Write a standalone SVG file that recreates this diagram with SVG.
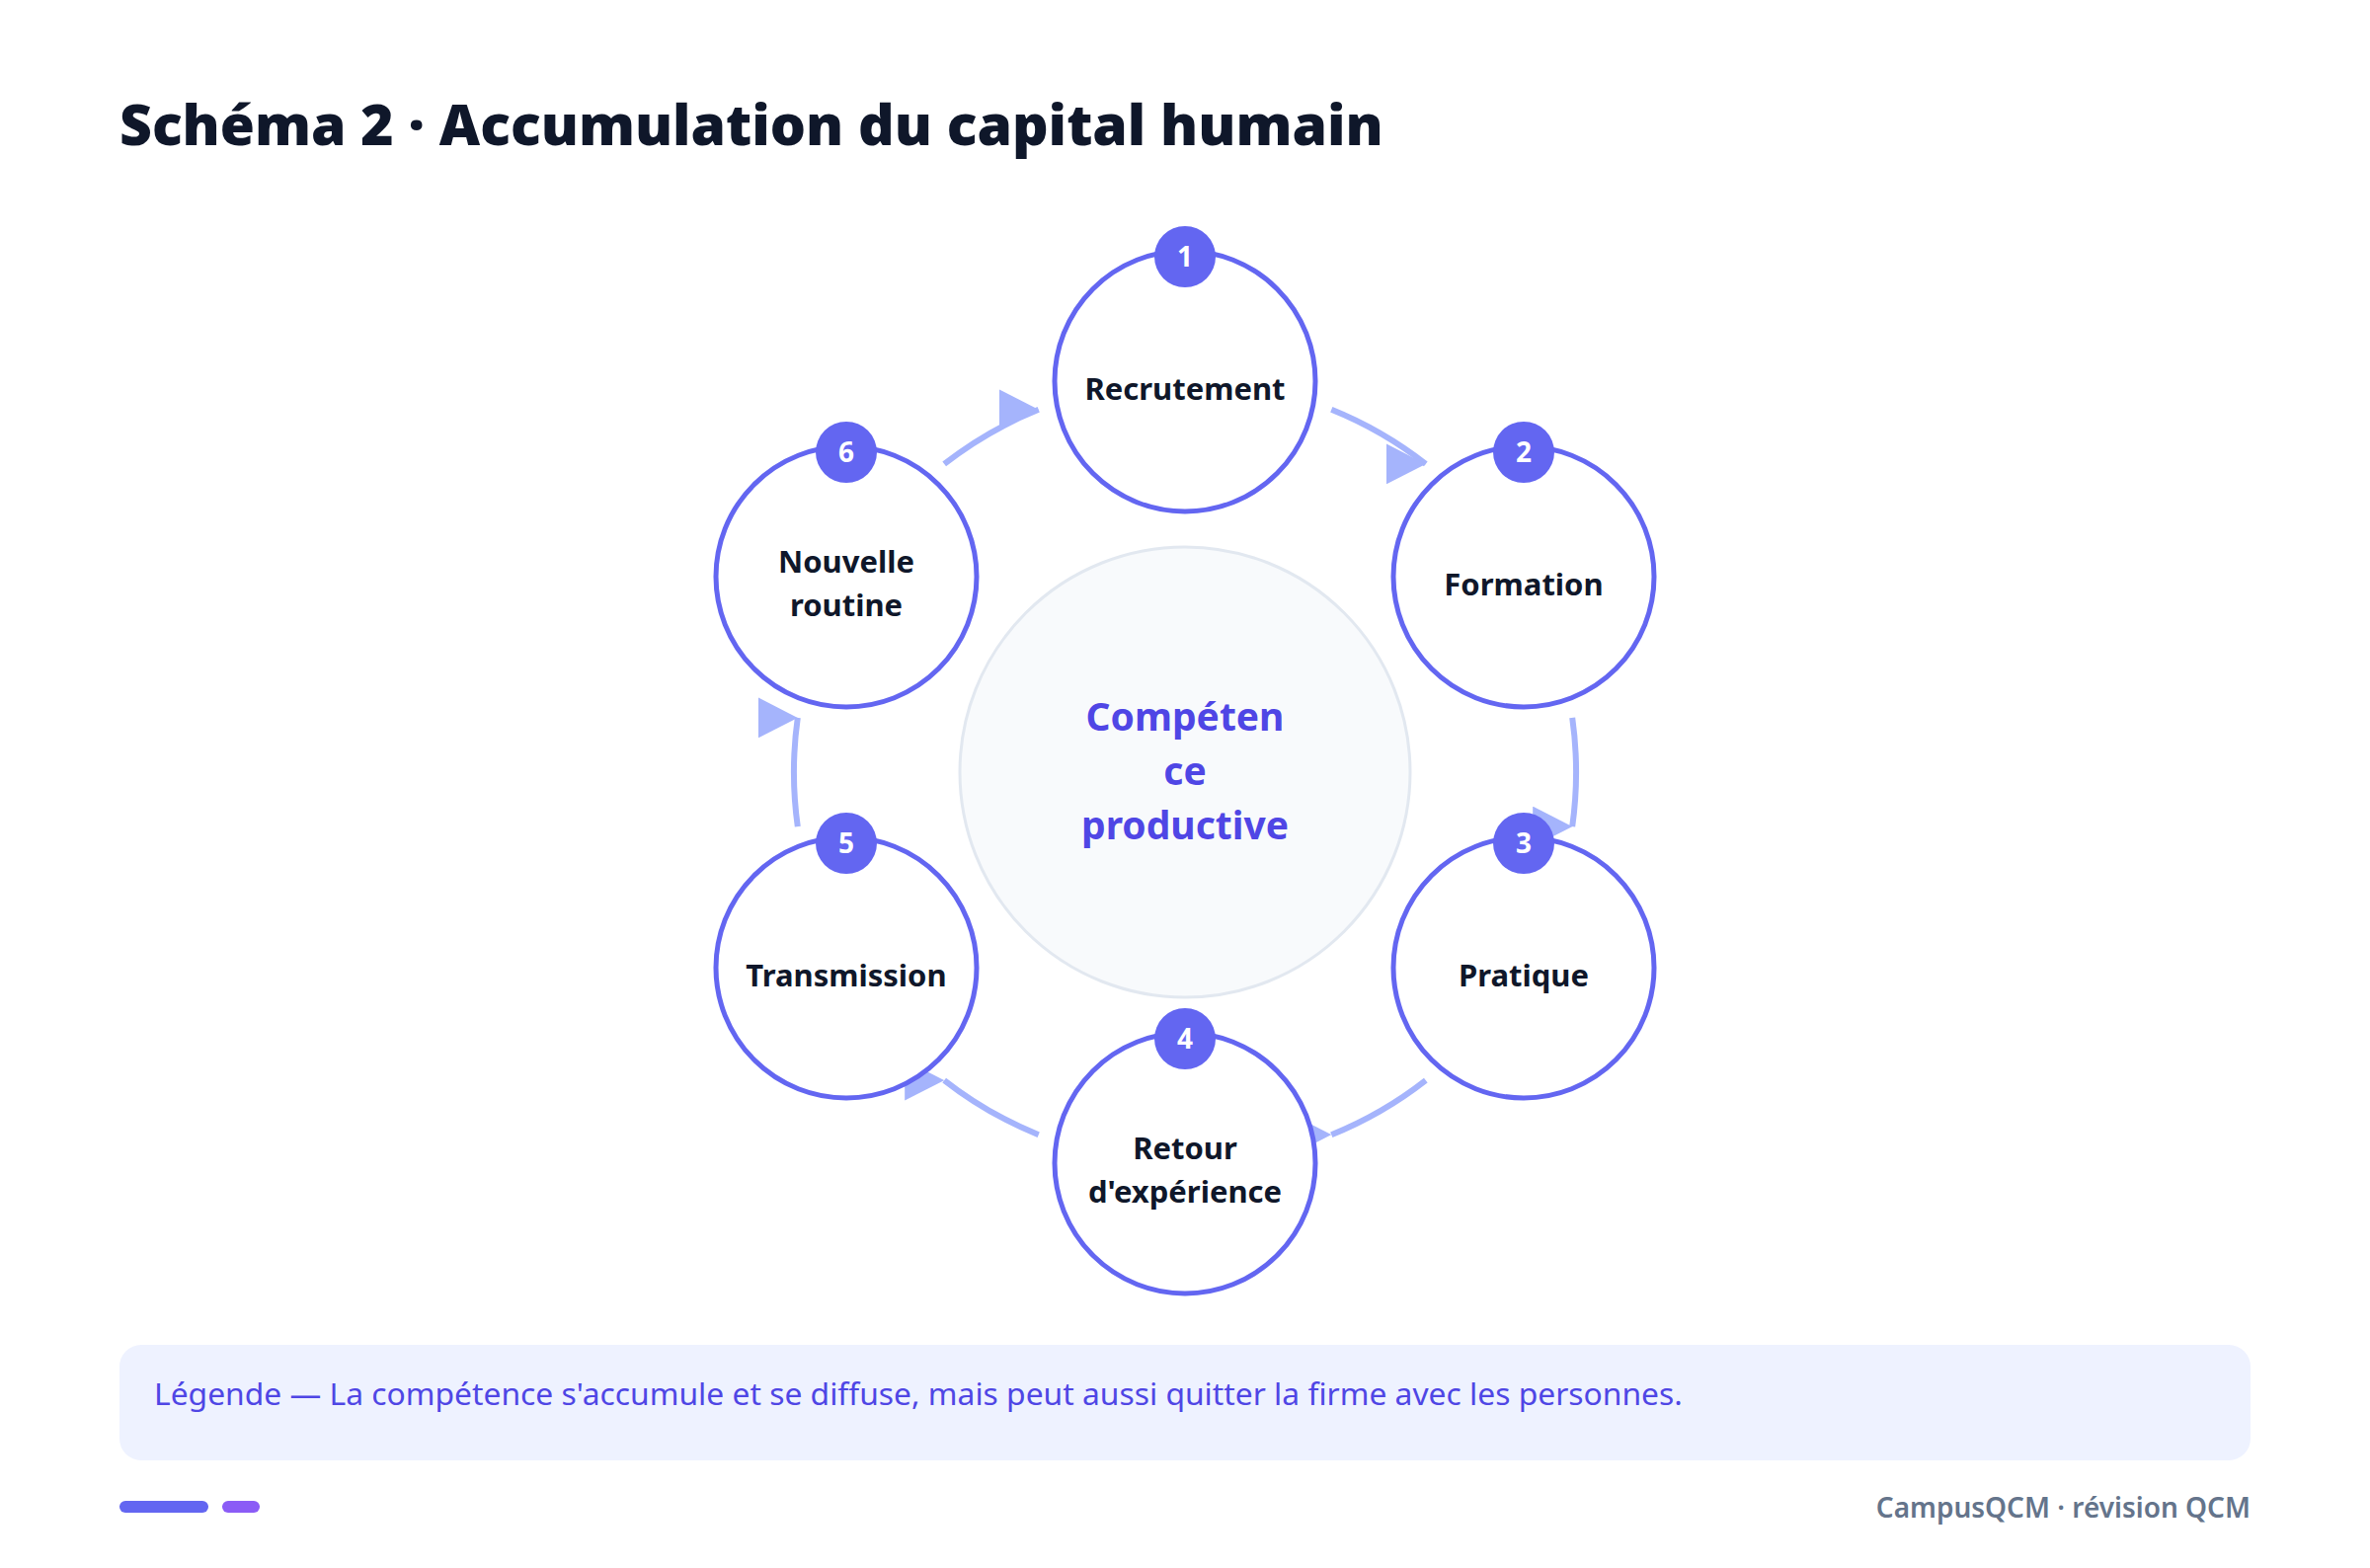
<svg xmlns="http://www.w3.org/2000/svg" width="2400" height="1588" viewBox="0 0 2400 1588">
<defs>
<style>
.title{font-family:"Noto Sans","Liberation Sans",sans-serif;font-weight:900;font-size:57px;fill:#0f172a}
.node{fill:#ffffff;stroke:#6366f1;stroke-width:5}
.badge{fill:#6366f1}
.num{font-family:"Noto Sans","Liberation Sans",sans-serif;font-weight:700;font-size:28px;fill:#ffffff;text-anchor:middle}
.lbl{font-family:"Noto Sans","Liberation Sans",sans-serif;font-weight:700;font-size:31px;fill:#0f172a;text-anchor:middle}
.hub{fill:#f8fafc;stroke:#e2e8f0;stroke-width:3}
.hubt{font-family:"Noto Sans","Liberation Sans",sans-serif;font-weight:700;font-size:39px;fill:#4f46e5;text-anchor:middle}
.conn{fill:none;stroke:#a5b4fc;stroke-width:6;marker-end:url(#ah)}
.leg{font-family:"Noto Sans","Liberation Sans",sans-serif;font-size:31.8px;fill:#4f46e5}
.foot{font-family:"Noto Sans","Liberation Sans",sans-serif;font-weight:600;font-size:28px;fill:#64748b;text-anchor:end}
</style>
<marker id="ah" markerUnits="userSpaceOnUse" viewBox="0 0 40 41" markerWidth="40" markerHeight="41" refX="40" refY="20.5">
<path d="M0,0 L40,20.5 L0,41 Z" fill="#a5b4fc"/>
</marker>
</defs>
<rect width="2400" height="1588" fill="#ffffff"/>
<text class="title" x="121" y="147">Schéma 2 · Accumulation du capital humain</text>

<g id="hub">
<circle class="hub" cx="1200" cy="782" r="228"/>
<text class="hubt" x="1200" y="740">Compéten</text>
<text class="hubt" x="1200" y="795">ce</text>
<text class="hubt" x="1200" y="850">productive</text>
</g>

<g id="connectors">
<path class="conn" d="M1348.3,414.8 A396,396 0 0 1 1443.8,469.9"/>
<path class="conn" d="M1592.2,726.9 A396,396 0 0 1 1592.2,837.1"/>
<path class="conn" d="M1443.8,1094.1 A396,396 0 0 1 1348.3,1149.2"/>
<path class="conn" d="M1051.7,1149.2 A396,396 0 0 1 956.2,1094.1"/>
<path class="conn" d="M807.8,837.1 A396,396 0 0 1 807.8,726.9"/>
<path class="conn" d="M956.2,469.9 A396,396 0 0 1 1051.7,414.8"/>
</g>

<g id="node1">
<circle class="node" cx="1200" cy="386" r="132"/>
<circle class="badge" cx="1200" cy="260" r="31"/>
<text class="num" x="1200" y="270">1</text>
<text class="lbl" x="1200" y="405">Recrutement</text>
</g>
<g id="node2">
<circle class="node" cx="1543" cy="584" r="132"/>
<circle class="badge" cx="1543" cy="458" r="31"/>
<text class="num" x="1543" y="468">2</text>
<text class="lbl" x="1543" y="603">Formation</text>
</g>
<g id="node3">
<circle class="node" cx="1543" cy="980" r="132"/>
<circle class="badge" cx="1543" cy="854" r="31"/>
<text class="num" x="1543" y="864">3</text>
<text class="lbl" x="1543" y="999">Pratique</text>
</g>
<g id="node4">
<circle class="node" cx="1200" cy="1178" r="132"/>
<circle class="badge" cx="1200" cy="1052" r="31"/>
<text class="num" x="1200" y="1062">4</text>
<text class="lbl" x="1200" y="1174">Retour</text>
<text class="lbl" x="1200" y="1218">d'expérience</text>
</g>
<g id="node5">
<circle class="node" cx="857" cy="980" r="132"/>
<circle class="badge" cx="857" cy="854" r="31"/>
<text class="num" x="857" y="864">5</text>
<text class="lbl" x="857" y="999">Transmission</text>
</g>
<g id="node6">
<circle class="node" cx="857" cy="584" r="132"/>
<circle class="badge" cx="857" cy="458" r="31"/>
<text class="num" x="857" y="468">6</text>
<text class="lbl" x="857" y="580">Nouvelle</text>
<text class="lbl" x="857" y="624">routine</text>
</g>

<g id="legend">
<rect x="121" y="1362" width="2158" height="117" rx="22" fill="#eef2ff"/>
<text class="leg" x="156" y="1423">Légende — La compétence s'accumule et se diffuse, mais peut aussi quitter la firme avec les personnes.</text>
</g>

<g id="footer">
<rect x="121" y="1520" width="90" height="12" rx="6" fill="#6366f1"/>
<rect x="225" y="1520" width="38" height="12" rx="6" fill="#8b5cf6"/>
<text class="foot" x="2279" y="1537">CampusQCM · révision QCM</text>
</g>
</svg>
